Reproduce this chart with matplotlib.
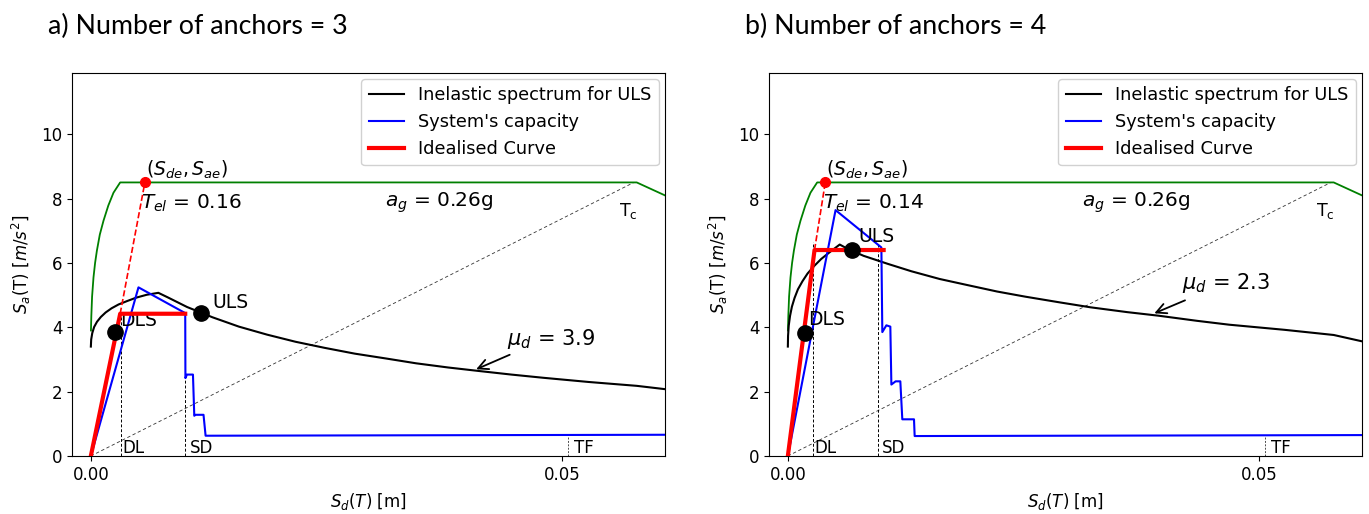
import matplotlib
matplotlib.use("Agg")
import matplotlib.pyplot as plt

# ---------------- data ----------------
panel_titles = ["a) Number of anchors = 3", "b) Number of anchors = 4"]

# elastic spectrum (ADRS) - same for both panels
elastic_sd = [0.00001, 0.00005, 0.00013, 0.00028, 0.00045, 0.00064, 0.00095, 0.00134, 0.00185,
              0.00240, 0.00311, 0.0579, 0.0611, 0.0625]
elastic_sa = [3.90, 4.35, 4.95, 5.55, 6.00, 6.38, 6.88, 7.31, 7.78,
              8.18, 8.50, 8.50, 8.07, 7.88]

# inelastic spectrum for ULS
inel3_sd = [0, 0.000036, 0.00015, 0.00035, 0.00065, 0.00106, 0.00157, 0.00220, 0.00295, 0.00381,
            0.00481, 0.00593, 0.00716, 0.00815, 0.0102, 0.0129, 0.0157, 0.0187, 0.0217, 0.0248,
            0.0280, 0.0313, 0.0345, 0.0379, 0.0412, 0.0446, 0.0480, 0.0528, 0.0579, 0.0611]
inel3_sa = [3.40, 3.62, 3.82, 4.01, 4.17, 4.32, 4.46, 4.59, 4.71, 4.81,
            4.92, 5.01, 5.07, 4.93, 4.63, 4.31, 4.02, 3.77, 3.55, 3.36,
            3.18, 3.03, 2.88, 2.75, 2.64, 2.53, 2.43, 2.30, 2.18, 2.07]
inel4_sd = [0, 0.000021, 0.000093, 0.00023, 0.00043, 0.00071, 0.00107, 0.00155, 0.00209, 0.00278,
            0.00353, 0.00447, 0.00550, 0.00632, 0.00803, 0.0106, 0.0131, 0.0161, 0.0189, 0.0222,
            0.0252, 0.0289, 0.0321, 0.0360, 0.0393, 0.0434, 0.0468, 0.0527, 0.0579, 0.0611]
inel4_sa = [3.40, 3.73, 4.05, 4.35, 4.64, 4.91, 5.18, 5.43, 5.67, 5.90,
            6.12, 6.34, 6.57, 6.44, 6.22, 5.97, 5.74, 5.50, 5.32, 5.11,
            4.95, 4.77, 4.62, 4.47, 4.36, 4.20, 4.08, 3.92, 3.76, 3.55]

# system's capacity
cap3_sd = [0, 0.00505, 0.01001, 0.01003, 0.01019, 0.01083, 0.01097, 0.01110, 0.01195, 0.01217, 0.0611]
cap3_sa = [0, 5.24, 4.44, 2.42, 2.53, 2.53, 1.25, 1.28, 1.28, 0.63, 0.66]
cap4_sd = [0, 0.00506, 0.00992, 0.01002, 0.01045, 0.01087, 0.01098, 0.01143, 0.01193, 0.01214,
           0.01338, 0.01345, 0.0611]
cap4_sa = [0, 7.64, 6.48, 3.85, 4.06, 4.02, 2.22, 2.32, 2.32, 1.14, 1.14, 0.62, 0.65]

# idealised bilinear curve
ideal3_sd = [0, 0.00311, 0.01001]
ideal3_sa = [0, 4.42, 4.42]
ideal4_sd = [0, 0.00283, 0.01016]
ideal4_sa = [0, 6.40, 6.40]

# elastic point (Sde, Sae)
elastic_pt3 = [0.00573, 8.50]
elastic_pt4 = [0.00397, 8.50]

# limit states
dls3 = [0.00258, 3.84]
uls3 = [0.01168, 4.44]
dls4 = [0.00177, 3.82]
uls4 = [0.00679, 6.40]

# vertical markers: DL, SD, TF (x, top)
dl3 = [0.00318, 4.42]
sd3 = [0.01001, 4.42]
dl4 = [0.00265, 6.65]
sd4 = [0.00955, 6.55]
tf3 = [0.0506, 0.63]
tf4 = [0.0506, 0.63]

# Tc line
tc_sd = [0, 0.0576]
tc_sa = [0, 8.50]

t_el = ["0.16", "0.14"]
mu_d = ["3.9", "2.3"]
ag_label = "0.26g"

# ---------------- figure ----------------
plt.rcParams['font.family'] = ['DejaVu Sans']
fig = plt.figure(figsize=(13.69, 5.14), dpi=100)

ax_pos = [[72/1369, 58/514, 593/1369, 383/514],
          [769/1369, 58/514, 593/1369, 383/514]]

panels = [
    dict(inel_sd=inel3_sd, inel_sa=inel3_sa, cap_sd=cap3_sd, cap_sa=cap3_sa,
         ideal_sd=ideal3_sd, ideal_sa=ideal3_sa, el=elastic_pt3, dls=dls3, uls=uls3,
         dl=dl3, sd=sd3, tf=tf3, tel=t_el[0], mu=mu_d[0],
         dls_txt=(0.00311, 4.22), uls_txt=(0.0129, 4.78),
         tel_txt=(0.0053, 7.86), mu_txt=(0.0441, 3.62), mu_tip=(0.0406, 2.66),
         mu_tail=(0.0447, 3.18)),
    dict(inel_sd=inel4_sd, inel_sa=inel4_sa, cap_sd=cap4_sd, cap_sa=cap4_sa,
         ideal_sd=ideal4_sd, ideal_sa=ideal4_sa, el=elastic_pt4, dls=dls4, uls=uls4,
         dl=dl4, sd=sd4, tf=tf4, tel=t_el[1], mu=mu_d[1],
         dls_txt=(0.0021, 4.24), uls_txt=(0.0075, 6.83),
         tel_txt=(0.0037, 7.86), mu_txt=(0.0418, 5.36), mu_tip=(0.0386, 4.40),
         mu_tail=(0.0424, 4.87)),
]

for i, p in enumerate(panels):
    ax = fig.add_axes(ax_pos[i])
    ax.plot(elastic_sd, elastic_sa, color='green', lw=1.3, zorder=2)
    ax.plot(tc_sd, tc_sa, color='k', ls='--', lw=0.6, dashes=(4, 3), alpha=0.8, zorder=1)
    l1, = ax.plot(p['inel_sd'], p['inel_sa'], color='black', lw=1.5, zorder=3,
                  label='Inelastic spectrum for ULS')
    l2, = ax.plot(p['cap_sd'], p['cap_sa'], color='blue', lw=1.5, zorder=3,
                  label="System's capacity")
    l3, = ax.plot(p['ideal_sd'], p['ideal_sa'], color='red', lw=3, zorder=4,
                  label='Idealised Curve')
    ax.plot([p['ideal_sd'][1], p['el'][0]], [p['ideal_sa'][1], p['el'][1]],
            color='red', ls='--', lw=1.2, zorder=4)
    ax.plot(p['el'][0], p['el'][1], 'o', color='red', ms=7, zorder=5)
    ax.plot(p['dls'][0], p['dls'][1], 'o', color='black', ms=11, zorder=6)
    ax.plot(p['uls'][0], p['uls'][1], 'o', color='black', ms=11, zorder=6)
    for v in (p['dl'], p['sd']):
        ax.plot([v[0], v[0]], [0, v[1]], color='k', ls='--', lw=0.7, dashes=(3, 2), zorder=2)
    ax.plot([p['tf'][0], p['tf'][0]], [0, p['tf'][1]], color='k', ls='--', lw=0.7,
            dashes=(2, 1.5), alpha=0.7, zorder=2)

    ax.text(p['dl'][0] + 0.0002, 0.25, 'DL', fontsize=12, va='center', ha='left')
    ax.text(p['sd'][0] + 0.00045, 0.25, 'SD', fontsize=12, va='center', ha='left')
    ax.text(p['tf'][0] + 0.0006, 0.25, 'TF', fontsize=12, va='center', ha='left')
    ax.text(p['dls_txt'][0], p['dls_txt'][1], 'DLS', fontsize=13.5, va='center', ha='left')
    ax.text(p['uls_txt'][0], p['uls_txt'][1], 'ULS', fontsize=13.5, va='center', ha='left')
    ax.text(p['el'][0] + 0.0001, p['el'][1] + 0.05, r'$(S_{de}, S_{ae})$', fontsize=13.5,
            va='bottom', ha='left')
    ax.text(p['tel_txt'][0], p['tel_txt'][1], r'$T_{el}$ = ' + p['tel'], fontsize=14.5,
            va='center', ha='left')
    ax.text(0.0312, 7.86, r'$a_g$ = ' + ag_label, fontsize=14.5, va='center', ha='left')
    ax.text(0.0560, 7.62, r'T$_\mathrm{c}$', fontsize=12.5, va='center', ha='left')
    ax.text(p['mu_txt'][0], p['mu_txt'][1], r'$\mu_d$ = ' + p['mu'], fontsize=15,
            va='center', ha='left')
    ax.annotate('', xy=p['mu_tip'], xytext=p['mu_tail'],
                arrowprops=dict(arrowstyle='->', color='k', lw=1.3, mutation_scale=18))

    ax.set_xlim(-0.002, 0.0609)
    ax.set_ylim(0, 11.9)
    ax.set_xticks([0.0, 0.05])
    ax.set_xticklabels(['0.00', '0.05'])
    ax.set_yticks([0, 2, 4, 6, 8, 10])
    ax.tick_params(labelsize=12)
    ax.set_xlabel(r'$S_d(T)$ [m]', fontsize=12, labelpad=5)
    ax.set_ylabel(r'$S_a$(T) $[m/s^2]$', fontsize=12, labelpad=6)
    ax.legend(handles=[l1, l2, l3], loc='upper right', fontsize=12.8, framealpha=0.9,
              handlelength=2.0, borderaxespad=0.35)

fig.text(48/1369, 1 - 26/514, panel_titles[0], fontsize=19.3, va='center', ha='left',
         family=['Lato', 'DejaVu Sans'])
fig.text(745/1369, 1 - 26/514, panel_titles[1], fontsize=19.3, va='center', ha='left',
         family=['Lato', 'DejaVu Sans'])

fig.savefig('out.png', dpi=100)
